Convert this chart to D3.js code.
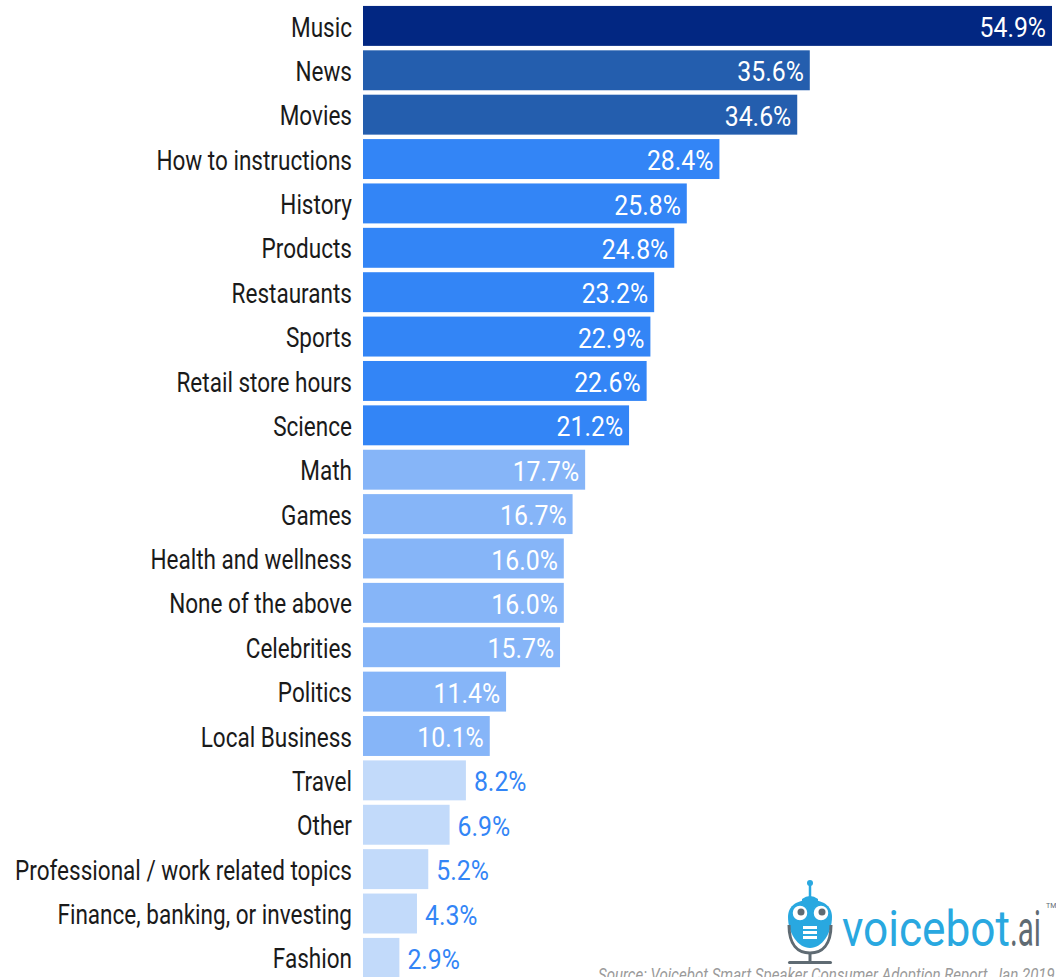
<!DOCTYPE html>
<html><head><meta charset="utf-8">
<script src="https://cdn.jsdelivr.net/npm/d3@7"></script>
<style>html,body{margin:0;padding:0;background:#fff;overflow:hidden}</style>
</head><body>
<svg id="c" width="1056" height="977"></svg>
<script>
const categories = ["Music","News","Movies","How to instructions","History","Products","Restaurants","Sports","Retail store hours","Science","Math","Games","Health and wellness","None of the above","Celebrities","Politics","Local Business","Travel","Other","Professional / work related topics","Finance, banking, or investing","Fashion"];
const values = [54.9,35.6,34.6,28.4,25.8,24.8,23.2,22.9,22.6,21.2,17.7,16.7,16.0,16.0,15.7,11.4,10.1,8.2,6.9,5.2,4.3,2.9];
const colorThresholds = [10,20,30,50];
const colorTiers = ["#c2dafa","#86b5f8","#3385f6","#245eae","#022782"];
const sourceText = "Source: Voicebot Smart Speaker Consumer Adoption Report, Jan 2019";

const svg = d3.select("#c");
const x = d3.scaleLinear().domain([0,54.9]).range([363,1052]);
const y = d3.scaleBand().domain(categories).range([1.5,982.3]).padding(0.1);
const color = d3.scaleThreshold().domain(colorThresholds).range(colorTiers);
const data = categories.map((c,i)=>({c,v:values[i]}));

svg.selectAll("rect.bar").data(data).join("rect").attr("class","bar")
  .attr("x",x(0)).attr("y",d=>y(d.c)).attr("width",d=>x(d.v)-x(0)).attr("height",y.bandwidth())
  .attr("fill",d=>color(d.v));

// category labels (condensed look via horizontal scale)
const sxL = 0.835;
const yAxis = svg.append("g").attr("transform",`translate(352,1) scale(${sxL},1)`)
  .call(d3.axisLeft(y).tickSize(0).tickPadding(0));
yAxis.select(".domain").remove();
yAxis.selectAll("text").attr("font-family","Roboto").attr("font-size",27).attr("fill","#1a1a1a").attr("dy","0.355em");

// value labels
const sxV = 0.87;
svg.selectAll("text.val").data(data).join("text").attr("class","val")
  .attr("transform",d=>{
    const px = d.v>=10 ? x(d.v)-6 : x(d.v)+8;
    return `translate(${px},${y(d.c)+y.bandwidth()/2+1}) scale(${sxV},1)`;
  })
  .attr("dy","0.355em")
  .attr("text-anchor",d=>d.v>=10?"end":"start")
  .attr("font-family","Roboto").attr("font-size",28.5)
  .attr("fill",d=>d.v>=10?"#fff":"#3385f6")
  .text(d=>d.v.toFixed(1)+"%");

// logo
const lg = svg.append("g");
const blue="#29a8e0", gray="#5f6b73";
lg.append("line").attr("x1",810).attr("y1",885).attr("x2",810).attr("y2",897).attr("stroke",blue).attr("stroke-width",2.5);
lg.append("circle").attr("cx",810).attr("cy",883).attr("r",3).attr("fill",blue);
lg.append("path").attr("d","M802,899 Q810,893 818,899 L818,902 L802,902 Z").attr("fill",blue);
lg.append("path").attr("d","M810,900 C826,900 832,908 832,917 C832,933 822,948 810,948 C798,948 788,933 788,917 C788,908 794,900 810,900 Z").attr("fill",blue);
[[800,913],[821,913]].forEach(([cx,cy])=>{
  lg.append("circle").attr("cx",cx).attr("cy",cy).attr("r",8).attr("fill","#fff").attr("stroke",blue).attr("stroke-width",1.5);
  lg.append("circle").attr("cx",cx+1).attr("cy",cy-1).attr("r",3.5).attr("fill",gray);
});
[926,931,936].forEach(yy=>lg.append("rect").attr("x",803).attr("y",yy).attr("width",14).attr("height",3).attr("fill","#fff"));
lg.append("path").attr("d","M789,925 C789,945 798,953 810,953 C822,953 831,945 831,925").attr("fill","none").attr("stroke",gray).attr("stroke-width",3);
lg.append("line").attr("x1",810).attr("y1",953).attr("x2",810).attr("y2",962).attr("stroke",gray).attr("stroke-width",3);
lg.append("rect").attr("x",788).attr("y",961).attr("width",44).attr("height",3).attr("rx",1.5).attr("fill",gray);
lg.append("text").attr("x",842).attr("y",946).attr("font-family","Roboto").attr("font-size",50)
  .attr("textLength",168).attr("lengthAdjust","spacingAndGlyphs").attr("fill",blue).text("voicebot");
lg.append("text").attr("x",1010).attr("y",946).attr("font-family","Roboto").attr("font-size",50)
  .attr("textLength",31).attr("lengthAdjust","spacingAndGlyphs").attr("fill",gray).text(".ai");
lg.append("text").attr("x",1046).attr("y",908).attr("font-family","Roboto").attr("font-size",7).attr("fill",gray).text("TM");

svg.append("text").attr("transform","translate(598,981) scale(0.86,1)").attr("font-family","Roboto").attr("font-style","italic")
  .attr("font-size",17.5).attr("fill","#9a9a9a").text(sourceText);
</script>
</body></html>
